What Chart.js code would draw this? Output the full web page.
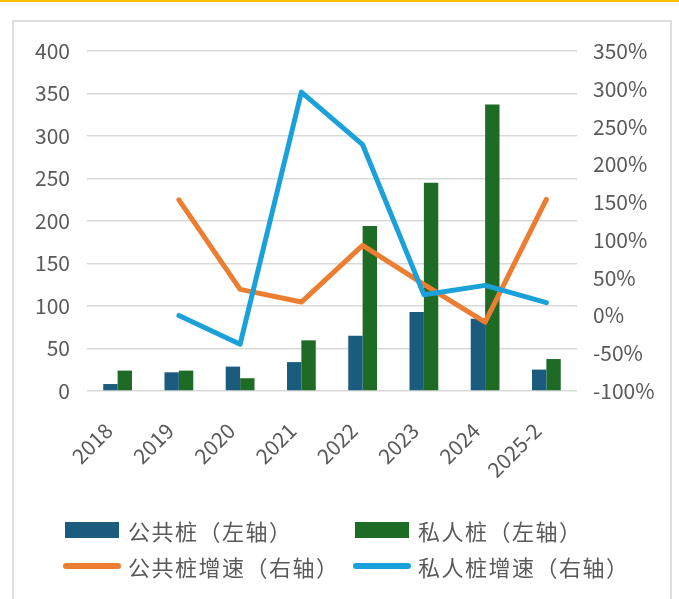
<!DOCTYPE html>
<html>
<head>
<meta charset="utf-8">
<script src="https://cdn.jsdelivr.net/npm/chart.js@4/dist/chart.umd.min.js"></script>
<style>
html,body{margin:0;padding:0;background:#fff;width:679px;height:599px;overflow:hidden;position:relative;}
#topline{position:absolute;left:0;top:0;width:679px;height:2px;background:#FFC000;}
#frame{position:absolute;left:12px;top:20px;width:660px;height:640px;border:2px solid #dedede;box-sizing:border-box;}
#wrap{position:absolute;left:0;top:0;width:679px;height:490px;}
#legend{position:absolute;left:0;top:0;width:679px;height:599px;pointer-events:none;}
.sym{position:absolute;}
.lbl{position:absolute;height:30px;line-height:30px;font-family:"Noto Sans CJK SC";font-size:22px;letter-spacing:1.5px;color:#595959;white-space:nowrap;}
</style>
</head>
<body>
<div id="topline"></div>
<div id="frame"></div>
<div id="wrap"><canvas id="c" width="679" height="490"></canvas></div>
<div id="legend"></div>
<script>
// ---- data ----
const categories = ['2018', '2019', '2020', '2021', '2022', '2023', '2024', '2025-2'];
const publicPiles = [8.2, 22, 28.7, 34, 65, 93, 85, 25.2];
const privatePiles = [24, 24, 15, 59.6, 194, 245, 337, 37.6];
const publicGrowth = [null, 153, 34.5, 17.7, 92.8, 41, -8.8, 153.6];
const privateGrowth = [null, 0, -38, 295.6, 226, 27.5, 39.8, 17];
const seriesNames = ['公共桩（左轴）', '私人桩（左轴）', '公共桩增速（右轴）', '私人桩增速（右轴）'];
const leftAxisRange = [0, 400, 50];
const rightAxisRange = [-100, 350, 50];

// ---- style ----
const colors = ['#1B5C7E', '#1D6B25', '#ED7D31', '#1BA1D9'];
const tickFont = {family: 'Noto Sans CJK SC', size: 21};
const tickColor = '#595959';

const chart = new Chart(document.getElementById('c'), {
  data: {
    labels: categories,
    datasets: [
      {type: 'bar', label: seriesNames[0], data: publicPiles, backgroundColor: colors[0], yAxisID: 'y', order: 2,
       categoryPercentage: 0.47, barPercentage: 1},
      {type: 'bar', label: seriesNames[1], data: privatePiles, backgroundColor: colors[1], yAxisID: 'y', order: 2,
       categoryPercentage: 0.47, barPercentage: 1},
      {type: 'line', label: seriesNames[2], data: publicGrowth, borderColor: colors[2], backgroundColor: colors[2],
       borderWidth: 5, pointRadius: 0, borderCapStyle: 'round', borderJoinStyle: 'round', yAxisID: 'y1', order: 1, tension: 0},
      {type: 'line', label: seriesNames[3], data: privateGrowth, borderColor: colors[3], backgroundColor: colors[3],
       borderWidth: 5, pointRadius: 0, borderCapStyle: 'round', borderJoinStyle: 'round', yAxisID: 'y1', order: 0, tension: 0}
    ]
  },
  options: {
    responsive: false,
    animation: false,
    devicePixelRatio: 1,
    layout: {padding: {left: 0, right: 0, top: 51, bottom: 0}},
    plugins: {legend: {display: false}, tooltip: {enabled: false}},
    scales: {
      x: {
        offset: true,
        grid: {display: false, drawTicks: false},
        border: {display: false},
        ticks: {font: tickFont, color: tickColor, minRotation: 45, maxRotation: 45, autoSkip: false, padding: 27, labelOffset: -9},
        afterFit(s) { s.height = 99; }
      },
      y: {
        position: 'left',
        min: leftAxisRange[0], max: leftAxisRange[1],
        ticks: {stepSize: leftAxisRange[2], font: tickFont, color: tickColor, padding: 17},
        grid: {color: '#d9d9d9', lineWidth: 1.5, drawTicks: false},
        border: {display: false},
        afterFit(s) { s.width = 87; }
      },
      y1: {
        position: 'right',
        min: rightAxisRange[0], max: rightAxisRange[1],
        ticks: {stepSize: rightAxisRange[2], font: tickFont, color: tickColor, padding: 16, callback: v => v + '%'},
        grid: {display: false, drawTicks: false},
        border: {display: false},
        afterFit(s) { s.width = 102; }
      }
    }
  }
});

// ---- legend (built from chart datasets) ----
const legend = document.getElementById('legend');
const slots = [
  {sx: 65, tx: 128, cy: 529.5},
  {sx: 355, tx: 418, cy: 529.5},
  {sx: 63, tx: 128, cy: 566},
  {sx: 353, tx: 418, cy: 566}
];
chart.data.datasets.forEach((ds, i) => {
  const s = slots[i];
  const sym = document.createElement('div');
  sym.className = 'sym';
  if (ds.type === 'bar') {
    sym.style.cssText = `left:${s.sx}px;top:${s.cy - 8}px;width:54px;height:16px;background:${ds.backgroundColor};`;
  } else {
    sym.style.cssText = `left:${s.sx}px;top:${s.cy - 3}px;width:58px;height:6px;border-radius:3px;background:${ds.borderColor};`;
  }
  legend.appendChild(sym);
  const t = document.createElement('div');
  t.className = 'lbl';
  t.style.left = s.tx + 'px';
  t.style.top = (s.cy - 15) + 'px';
  t.textContent = ds.label;
  legend.appendChild(t);
});
</script>
</body>
</html>
